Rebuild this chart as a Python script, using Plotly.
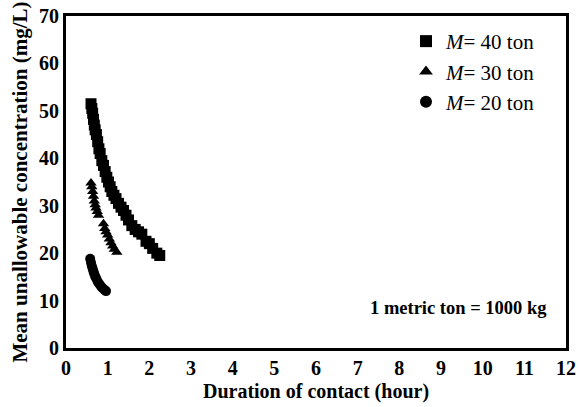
import plotly.graph_objects as go

# Data
t40 = [0.60, 0.62, 0.64, 0.66, 0.68, 0.70, 0.73, 0.76, 0.79, 0.82, 0.86, 0.90, 0.94, 0.98,
       1.02, 1.06, 1.10, 1.15, 1.20, 1.26, 1.32, 1.38, 1.44, 1.50, 1.58, 1.66, 1.74, 1.82,
       1.92, 2.00, 2.08, 2.18, 2.25]
c40 = [51.5, 50.5, 49.5, 48.2, 47.0, 46.0, 45.0, 43.5, 42.0, 41.0, 39.5, 38.5, 37.2, 36.0,
       35.0, 34.0, 33.0, 32.2, 31.5, 30.5, 29.7, 29.0, 28.0, 27.0, 25.8, 25.0, 24.5, 24.0,
       22.5, 22.0, 21.0, 20.0, 19.5]
t30 = [0.60, 0.62, 0.64, 0.66, 0.68, 0.70, 0.72, 0.75, 0.78, 0.90, 0.93, 0.96, 1.00, 1.04,
       1.08, 1.12, 1.16, 1.22]
c30 = [34.8, 34.0, 33.0, 32.0, 31.0, 30.2, 29.5, 28.8, 28.0, 26.2, 25.2, 24.5, 23.8, 23.0,
       22.2, 21.5, 20.8, 20.2]
t20 = [0.58, 0.60, 0.62, 0.64, 0.66, 0.68, 0.70, 0.73, 0.76, 0.80, 0.84, 0.88, 0.92, 0.96]
c20 = [18.8, 18.0, 17.3, 16.7, 16.1, 15.6, 15.1, 14.6, 14.0, 13.5, 13.0, 12.6, 12.3, 12.0]

names = ["<i>M</i>= 40 ton", "<i>M</i>= 30 ton", "<i>M</i>= 20 ton"]
x_ticks = list(range(0, 13))
y_ticks = list(range(0, 71, 10))
x_ticktext = ["<b>%d</b>" % v for v in x_ticks]
y_ticktext = ["<b>%d</b>" % v for v in y_ticks]

FONT = "Liberation Serif, Times New Roman, serif"
TICK = dict(family=FONT, size=20, color="black", weight="bold")

fig = go.Figure()
fig.add_trace(go.Scatter(x=t40, y=c40, mode="markers", name=names[0], legendgroup="a",
                         marker=dict(symbol="square", size=11, color="black")))
fig.add_trace(go.Scatter(x=t30, y=c30, mode="markers", name=names[1], legendgroup="b",
                         marker=dict(symbol="triangle-up", size=10, color="black")))
fig.add_trace(go.Scatter(x=t20, y=c20, mode="markers", name=names[2], legendgroup="c",
                         marker=dict(symbol="circle", size=10, color="black")))

fig.update_layout(
    width=580, height=407,
    margin=dict(l=66, r=14, t=16, b=59),
    paper_bgcolor="white", plot_bgcolor="white",
    font=dict(family=FONT, color="black"),
    showlegend=True,
    legend=dict(x=0.68, y=0.985, xanchor="left", yanchor="top",
                font=dict(family=FONT, size=21, color="black"),
                bgcolor="rgba(0,0,0,0)", tracegroupgap=0, itemsizing="constant"),
    xaxis=dict(range=[0, 12], tickvals=x_ticks, ticktext=x_ticktext, ticks="",
               showgrid=False, zeroline=False, automargin=False,
               showline=True, linecolor="black", linewidth=3, mirror=True,
               tickfont=TICK,
               title=dict(text="<b>Duration of contact (hour)</b>",
                          font=dict(family=FONT, size=20, color="black"), standoff=6)),
    yaxis=dict(range=[0, 70], tickvals=y_ticks, ticktext=y_ticktext, ticks="",
               showgrid=False, zeroline=False, automargin=False,
               showline=True, linecolor="black", linewidth=3, mirror=True,
               tickfont=TICK,
               title=dict(text="<b>Mean unallowable concentration (mg/L)</b>",
                          font=dict(family=FONT, size=21, color="black"), standoff=6)),
    annotations=[dict(x=0.965, y=0.121, xref="paper", yref="paper", xanchor="right", yanchor="middle",
                      text="<b>1 metric ton = 1000 kg</b>", showarrow=False,
                      font=dict(family=FONT, size=18.5, color="black"))],
)

fig.write_html("out.html")
